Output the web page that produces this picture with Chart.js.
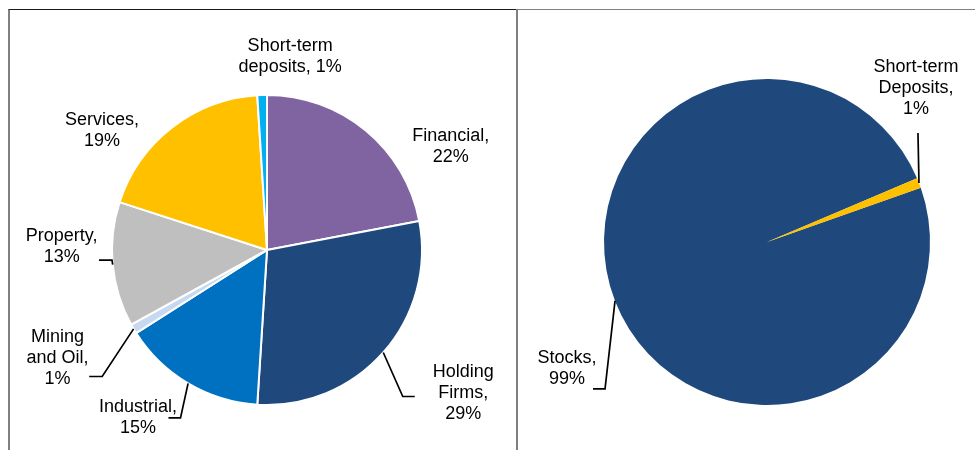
<!DOCTYPE html>
<html>
<head>
<meta charset="utf-8">
<script src="https://cdn.jsdelivr.net/npm/chart.js@4.4.1/dist/chart.umd.min.js"></script>
<style>
  html,body{margin:0;padding:0;background:#fff;width:975px;height:450px;overflow:hidden;}
  .panel{position:absolute;top:9px;height:441px;overflow:hidden;}
  #left-panel{left:8px;width:506px;border-left:2px solid #808080;border-top:1px solid #1a1a1a;}
  #right-panel{left:516px;width:457px;border-left:2px solid #808080;border-top:1px solid #808080;}
  canvas{display:block;}
</style>
</head>
<body>
<div class="panel" id="left-panel"><canvas id="leftPie" width="506" height="440"></canvas></div>
<div class="panel" id="right-panel"><canvas id="rightPie" width="457" height="440"></canvas></div>

<script>
/* ===== Dados ===== */
const leftCategories = ['Financial','Holding Firms','Industrial','Mining and Oil','Property','Services','Short-term deposits'];
const leftValues     = [22, 29, 15, 1, 13, 19, 1];
const leftLabelText  = ['Financial,\n22%','Holding\nFirms,\n29%','Industrial,\n15%','Mining\nand Oil,\n1%','Property,\n13%','Services,\n19%','Short-term\ndeposits, 1%'];

const rightCategories = ['Stocks','Short-term Deposits'];
const rightValues     = [99, 1];
const rightLabelText  = ['Stocks,\n99%','Short-term\nDeposits,\n1%'];

/* ===== Estilo ===== */
const leftColors  = ['#8064A2','#1F497D','#0070C0','#C6D9F1','#BFBFBF','#FFC000','#00B0F0'];
const rightColors = ['#1F497D','#FFC000'];

// posição do rótulo relativa ao ponto médio do arco; leader = [joelho, fim]
const leftLayout = [
  {dx:85,  dy:16},
  {dx:80,  dy:41,  leader:[[19.5,44],[31.5,44]]},
  {dx:-50, dy:34,  leader:[[-7.6,34.4],[-19.6,34.4]]},
  {dx:-76, dy:29,  leader:[[-31.4,47.6],[-44.4,47.6]]},
  {dx:-51, dy:-18, leader:[[-0.7,-4.5],[-13.7,-4.5]]},
  {dx:-70, dy:3},
  {dx:28,  dy:-39},
];
const rightLayout = [
  {dx:-48, dy:68,  leader:[[-10,88],[-22,88]]},
  {dx:-3,  dy:-95, leader:[[-1,-50]]},
];

const FONT = '18px "Liberation Sans", Arial, sans-serif';
const LINE_H = 21;

/* ===== Plugin de rótulos com linhas guia ===== */
const pieLabels = {
  id:'pieLabels',
  afterDatasetsDraw(chart, args, opts){
    const ctx = chart.ctx;
    const meta = chart.getDatasetMeta(0);
    ctx.save();
    ctx.font = FONT;
    ctx.fillStyle = '#000';
    ctx.strokeStyle = '#000';
    ctx.lineWidth = 1.7;
    ctx.textAlign = 'center';
    ctx.textBaseline = 'middle';
    meta.data.forEach((arc, i)=>{
      const lay = opts.layout[i];
      if (!lay) return;
      const mid = (arc.startAngle + arc.endAngle) / 2;
      const ax = arc.x + Math.cos(mid) * arc.outerRadius;
      const ay = arc.y + Math.sin(mid) * arc.outerRadius;

      if (lay.leader){
        ctx.beginPath();
        ctx.moveTo(ax, ay);
        lay.leader.forEach(p => ctx.lineTo(ax + p[0], ay + p[1]));
        ctx.stroke();
      }

      const lines = opts.text[i].split('\n');
      const cx = ax + lay.dx;
      const cy = ay + lay.dy;
      const top = cy - (lines.length - 1) * LINE_H / 2;
      lines.forEach((ln, k)=> ctx.fillText(ln, cx, top + k * LINE_H));
    });
    ctx.restore();
  }
};

function makePie(id, labels, values, colors, opts){
  return new Chart(document.getElementById(id), {
    type:'pie',
    data:{ labels, datasets:[{
      data: values,
      backgroundColor: colors,
      borderColor: '#fff',
      borderWidth: opts.border,
      radius: opts.radius
    }]},
    options:{
      responsive:false,
      animation:false,
      devicePixelRatio:1,
      rotation: opts.rotation,
      layout:{ padding: opts.padding },
      plugins:{
        legend:{display:false},
        tooltip:{enabled:false},
        pieLabels:{ layout: opts.layout, text: opts.text }
      }
    },
    plugins:[pieLabels]
  });
}

makePie('leftPie', leftCategories, leftValues, leftColors, {
  border:2, radius:155, rotation:0,
  padding:{left:8, right:0, top:40, bottom:0},
  layout:leftLayout, text:leftLabelText
});

makePie('rightPie', rightCategories, rightValues, rightColors, {
  border:0, radius:163, rotation:70.6,
  padding:{left:41, right:0, top:24, bottom:0},
  layout:rightLayout, text:rightLabelText
});
</script>
</body>
</html>
